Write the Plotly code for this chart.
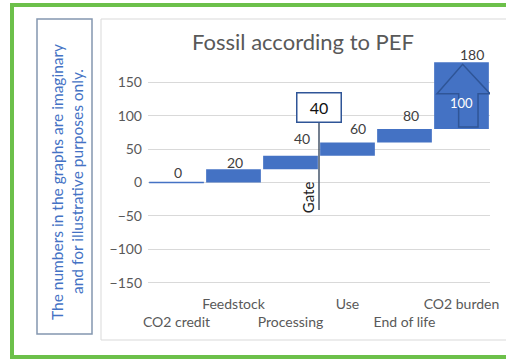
import plotly.graph_objects as go

# ---- data ----
categories = ["CO2 credit", "Feedstock", "Processing", "Use", "End of life", "CO2 burden"]
increments = [0, 20, 20, 20, 20, 100]
label_row = [2, 1, 2, 1, 2, 1]          # Excel staggers the category labels
gate_after_index = 2                     # gate sits between Processing and Use
gate_value = 40
title_text = "Fossil according to PEF"
note_lines = ["The numbers in the graphs are imaginary", "and for illustrative purposes only."]
y_ticks = [-150, -100, -50, 0, 50, 100, 150]

# cumulative waterfall values
bases, tops = [], []
run = 0
for v in increments:
    bases.append(run)
    run += v
    tops.append(run)

W, H = 506, 359
L, R, T, B = 148, 16, 61, 75
PW, PH = W - L - R, H - T - B
y_range = [-152, 182]
FONT = "Lato, Carlito, Calibri, 'Open Sans', sans-serif"
BLUE = "#4472C4"
DARK_BLUE = "#2F5597"


def px(x):
    return (x - L) / PW


def py(y):
    return (H - B - y) / PH


fig = go.Figure()
xs = list(range(len(categories)))

fig.add_trace(go.Bar(
    x=xs, y=increments, base=bases, width=0.96,
    marker=dict(color=BLUE, line=dict(width=0)),
    hoverinfo="skip", showlegend=False,
))

# zero-height bar drawn as a thin line
for i, v in enumerate(increments):
    if v == 0:
        fig.add_trace(go.Scatter(
            x=[i - 0.48, i + 0.48], y=[bases[i], bases[i]], mode="lines",
            line=dict(color=BLUE, width=1.5), hoverinfo="skip", showlegend=False,
        ))

# arrow on the last bar
last = len(increments) - 1
b0, b1 = bases[last], tops[last]
h = b1 - b0
arrow_path = (
    f"M {last - 0.05} {b0 + 0.03*h} L {last + 0.29} {b0 + 0.03*h} "
    f"L {last + 0.29} {b0 + 0.53*h} L {last + 0.50} {b0 + 0.53*h} "
    f"L {last + 0.02} {b0 + 0.97*h} L {last - 0.43} {b0 + 0.53*h} "
    f"L {last - 0.05} {b0 + 0.53*h} Z"
)
fig.add_shape(type="path", path=arrow_path, xref="x", yref="y",
              fillcolor=BLUE, line=dict(color=DARK_BLUE, width=1.5), layer="above")
fig.add_annotation(x=last, y=b0 + 0.39*h, text=str(h), showarrow=False,
                   font=dict(family=FONT, size=13, color="white"))

# value labels
x_shift = [1.5, 1.5, 11, 10, 6, 10]
y_shift = [10, 7, 17, 14, 14, 8]
for i, t in enumerate(tops):
    fig.add_annotation(x=i, y=t, text=str(t), showarrow=False, xshift=x_shift[i],
                       yshift=y_shift[i], yanchor="middle",
                       font=dict(family=FONT, size=14, color="#404040"))

# gate
gx = gate_after_index + 0.5
fig.add_shape(type="line", xref="x", yref="y", x0=gx, x1=gx, y0=-41, y1=89,
              line=dict(color="#44546A", width=1.5))
fig.add_annotation(x=gx, y=112, text=str(gate_value), showarrow=False,
                   width=41, height=26, bordercolor=DARK_BLUE, borderwidth=1.5,
                   bgcolor="white", font=dict(family=FONT, size=16, color="#111111"))
fig.add_annotation(x=gx, y=-22, text="Gate", showarrow=False, textangle=-90,
                   xshift=-11, font=dict(family=FONT, size=15, color="#222222"))

# frames
fig.add_shape(type="rect", xref="paper", yref="paper", x0=px(12), x1=px(510),
              y0=py(357), y1=py(5), line=dict(color="#6CC04A", width=4), layer="below")
fig.add_shape(type="rect", xref="paper", yref="paper", x0=px(101), x1=px(512),
              y0=py(340), y1=py(19), line=dict(color="#D9D9D9", width=1), layer="below")
fig.add_shape(type="rect", xref="paper", yref="paper", x0=px(37), x1=px(92),
              y0=py(334), y1=py(19), line=dict(color="#8497B0", width=1.5), layer="below")
for k, (line_txt, cx) in enumerate(zip(note_lines, [57, 77])):
    fig.add_annotation(xref="paper", yref="paper", x=px(cx), y=py(182), text=line_txt,
                       showarrow=False, textangle=-90, xanchor="center", yanchor="middle",
                       font=dict(family=FONT, size=15.5, color=BLUE))

ticktext = [("<br>" + c) if r == 2 else c for c, r in zip(categories, label_row)]

fig.update_layout(
    width=W, height=H, margin=dict(l=L, r=R, t=T, b=B, autoexpand=False),
    paper_bgcolor="white", plot_bgcolor="white",
    title=dict(text=title_text, x=303 / W, xanchor="center", y=1 - 42 / H,
               yanchor="middle", font=dict(family=FONT, size=22, color="#595959")),
    bargap=0.04,
    xaxis=dict(range=[-0.5, len(categories) - 0.5], tickvals=xs, ticktext=ticktext,
               tickangle=0, showgrid=False, zeroline=False, showline=False, ticks="",
               ticklabelstandoff=10, automargin=False,
               tickfont=dict(family=FONT, size=14, color="#595959")),
    yaxis=dict(range=y_range, tickvals=y_ticks, showgrid=True, gridcolor="#D9D9D9",
               gridwidth=1, zeroline=False, showline=False, ticks="",
               ticklabelstandoff=5, automargin=False,
               tickfont=dict(family=FONT, size=14, color="#595959")),
    font=dict(family=FONT),
)

fig.write_html("out.html")
